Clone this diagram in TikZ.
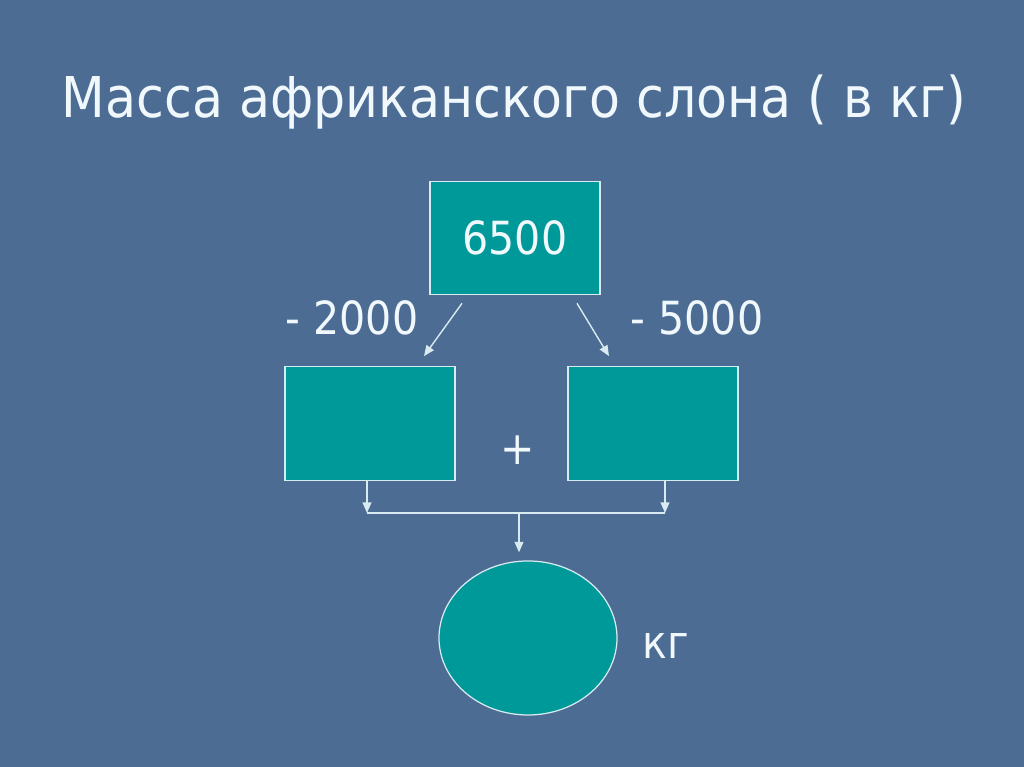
\documentclass[tikz,border=0pt]{standalone}
\usepackage{fontspec}
\setmainfont[FakeStretch=0.9]{DejaVu Sans}
\usetikzlibrary{arrows.meta}
\usetikzlibrary{shapes.geometric}
\definecolor{slide}{RGB}{76,108,148}
\definecolor{teal}{RGB}{0,153,153}
\definecolor{edge}{RGB}{215,235,240}
\definecolor{ink}{RGB}{240,248,252}

\begin{document}
\begin{tikzpicture}[
    box/.style={shape=rectangle, draw=edge, line width=0.7pt, fill=teal, minimum width=3.4cm, minimum height=2.27cm, inner sep=0pt},
    arr/.style={draw=edge, line width=0.8pt, -{Triangle[length=6pt,width=5pt]}},
    lbl/.style={text=ink, font=\fontsize{26}{30}\selectfont}]

                \fill[slide] (0,0) rectangle (20.48,15.34);
                \useasboundingbox (0,0) rectangle (20.48,15.34);

                \node[text=ink, font=\fontsize{32}{38}\selectfont] (title) at (10.28,13.3) {Масса африканского слона ( в кг)};

                \node[box, lbl] (top) at (10.3,10.58) {6500};
                \node[box] (left) at (7.4,6.87) {};
                \node[box] (right) at (13.06,6.87) {};
                \node[shape=ellipse, draw=edge, line width=0.7pt, fill=teal, minimum width=3.56cm, minimum height=3.08cm, inner sep=0pt] (res) at (10.56,2.58) {};

                \node[lbl] (minusA) at (7.04,8.98) {- 2000};
                \node[lbl] (minusB) at (13.94,8.98) {- 5000};
                \node[lbl] (plus) at (10.36,6.34) {+};
                \node[lbl] (unit) at (13.32,2.42) {кг};

                \coordinate (join) at (10.38,5.08);

                \draw[arr] ([xshift=-1.06cm,yshift=-0.16cm]top.south) -- ([xshift=1.08cm,yshift=0.2cm]left.north);
                \draw[arr] ([xshift=1.24cm,yshift=-0.16cm]top.south) -- ([xshift=-0.88cm,yshift=0.2cm]right.north);
                \draw[arr] ([xshift=-0.06cm]left.south) -- ([xshift=-0.06cm]left.south |- join);
                \draw[arr] ([xshift=0.24cm]right.south) -- ([xshift=0.24cm]right.south |- join);
                \draw[draw=edge, line width=0.8pt] ([xshift=-0.06cm]left.south |- join) -- ([xshift=0.24cm]right.south |- join);
                \draw[arr] (join) -- ([yshift=0.16cm]join |- res.north);

            \end{tikzpicture}
\end{document}
